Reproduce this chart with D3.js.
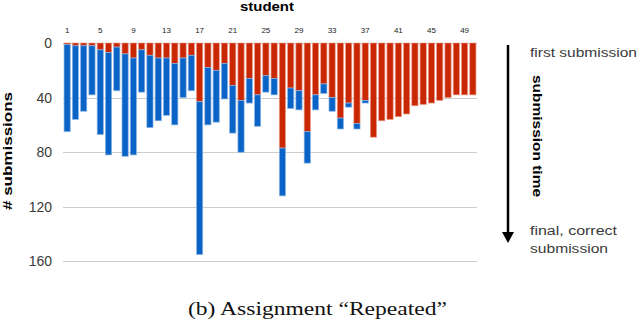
<!DOCTYPE html>
<html>
<head>
<meta charset="utf-8">
<script src="https://cdn.jsdelivr.net/npm/d3@7"></script>
<style>
	body { margin: 0; background: #fff; }
	text { font-family: "Liberation Sans", Arial, Helvetica, sans-serif; }
	.caption { font-family: "Liberation Serif", "Times New Roman", serif; }
</style>
</head>
<body>
<div class="chart"></div>
<script>
var colors = {
	red: "#c92602",
	blue: "#0a63c6",
	lightred: "#eb9a88",
	lightblue: "#8db6e6",
	grid: "#cccccc",
	text: "#3a3a3a"
}

// students along the top axis
var students = [1, 2, 3, 4, 5, 6, 7, 8, 9, 10,
	11, 12, 13, 14, 15, 16, 17, 18, 19, 20,
	21, 22, 23, 24, 25, 26, 27, 28, 29, 30,
	31, 32, 33, 34, 35, 36, 37, 38, 39, 40,
	41, 42, 43, 44, 45, 46, 47, 48, 49, 50];

// red part (top of each bar), in submissions
var red_part = [1, 2, 2, 2, 5, 7, 3, 8, 11, 5,
	9, 11, 11, 15, 11, 9, 43, 18, 20, 15,
	31, 42, 26, 38, 24, 26, 77, 33, 35, 65,
	38, 30, 40, 55, 44, 59, 42, 69, 57, 56,
	54, 52, 46, 45, 44, 42, 40, 38, 38, 38];

// blue part, stacked under the red one
var blue_part = [64, 54, 48, 36, 62, 75, 32, 75, 71, 31,
	53, 46, 42, 45, 29, 26, 112, 42, 38, 26,
	35, 38, 18, 23, 12, 12, 35, 15, 14, 23,
	11, 7, 10, 8, 3, 4, 2, 0, 0, 0,
	0, 0, 0, 0, 0, 0, 0, 0, 0, 0];

var x_ticks = [1, 5, 9, 13, 17, 21, 25, 29, 33, 37, 41, 45, 49];
var y_ticks = [0, 40, 80, 120, 160];

var width = 640, height = 323;

var svg = d3.select(".chart").append("svg")
		.attr("width", width)
		.attr("height", height);

var x = d3.scaleBand()
	.domain(students)
	.range([63, 477])
	.paddingInner(0.25)
	.paddingOuter(0.125);

var y = d3.scaleLinear()
	.domain([0, 160])
	.range([43, 261.4]);

// gridlines
svg.selectAll(".grid")
	.data(y_ticks)
	.enter().append("line")
		.attr("class", "grid")
		.attr("x1", 63)
		.attr("x2", 477)
		.attr("y1", function(d){ return Math.round(y(d)) + 0.5; })
		.attr("y2", function(d){ return Math.round(y(d)) + 0.5; })
		.style("stroke", colors.grid)
		.style("stroke-width", 1);

svg.selectAll(".y-label")
	.data(y_ticks)
	.enter().append("text")
		.attr("class", "y-label")
		.attr("x", 52)
		.attr("y", function(d){ return y(d) + 5; })
		.attr("text-anchor", "end")
		.style("font-size", "14px")
		.style("fill", colors.text)
		.text(function(d){ return d; });

// bars
var data = students.map(function(s, i){
	return {student: s, red: red_part[i], blue: blue_part[i]};
});

var bars = svg.selectAll(".bar")
	.data(data)
	.enter().append("g")
		.attr("class", "bar");

bars.append("rect")
	.attr("x", function(d){ return x(d.student); })
	.attr("y", y(0))
	.attr("width", x.bandwidth())
	.attr("height", function(d){ return y(d.red) - y(0); })
	.style("fill", colors.red)
	.style("stroke", colors.lightred)
	.style("stroke-width", 0.7);

bars.filter(function(d){ return d.blue > 0; })
	.append("rect")
	.attr("x", function(d){ return x(d.student); })
	.attr("y", function(d){ return y(d.red); })
	.attr("width", x.bandwidth())
	.attr("height", function(d){ return y(d.red + d.blue) - y(d.red); })
	.style("fill", colors.blue)
	.style("stroke", colors.lightblue)
	.style("stroke-width", 0.7);

// top axis labels
svg.selectAll(".x-label")
	.data(x_ticks)
	.enter().append("text")
		.attr("class", "x-label")
		.attr("x", function(d){ return x(d) + x.bandwidth() / 2; })
		.attr("y", 33)
		.attr("text-anchor", "middle")
		.style("font-size", "8px")
		.style("fill", "#222")
		.text(function(d){ return d; });

svg.append("text")
	.attr("x", 240)
	.attr("y", 11)
	.attr("textLength", 54)
	.attr("lengthAdjust", "spacingAndGlyphs")
	.style("font-size", "12px")
	.style("font-weight", "bold")
	.text("student");

svg.append("text")
	.attr("transform", "translate(12, 151) rotate(-90)")
	.attr("x", -59)
	.attr("textLength", 118)
	.attr("lengthAdjust", "spacingAndGlyphs")
	.style("font-size", "13px")
	.style("font-weight", "bold")
	.text("# submissions");

// right side: submission time arrow
svg.append("line")
	.attr("x1", 508).attr("y1", 45)
	.attr("x2", 508).attr("y2", 234)
	.style("stroke", "#000")
	.style("stroke-width", 2.5);

svg.append("path")
	.attr("d", "M502,232L514,232L508,243Z")
	.style("fill", "#000");

svg.append("text")
	.attr("x", 530)
	.attr("y", 57)
	.attr("textLength", 107)
	.attr("lengthAdjust", "spacingAndGlyphs")
	.style("font-size", "12px")
	.style("fill", colors.text)
	.text("first submission");

svg.append("text")
	.attr("transform", "translate(533, 136) rotate(90)")
	.attr("x", -61)
	.attr("textLength", 122)
	.attr("lengthAdjust", "spacingAndGlyphs")
	.style("font-size", "13px")
	.style("font-weight", "bold")
	.text("submission time");

svg.append("text")
	.attr("x", 530)
	.attr("y", 235)
	.attr("textLength", 87)
	.attr("lengthAdjust", "spacingAndGlyphs")
	.style("font-size", "12px")
	.style("fill", colors.text)
	.text("final, correct");

svg.append("text")
	.attr("x", 530)
	.attr("y", 253)
	.attr("textLength", 78)
	.attr("lengthAdjust", "spacingAndGlyphs")
	.style("font-size", "12px")
	.style("fill", colors.text)
	.text("submission");

// caption
svg.append("text")
	.attr("class", "caption")
	.attr("x", 188)
	.attr("y", 315)
	.attr("textLength", 259)
	.attr("lengthAdjust", "spacingAndGlyphs")
	.style("font-size", "18px")
	.style("fill", "#111")
	.text("(b) Assignment \u201cRepeated\u201d");
</script>
</body>
</html>
